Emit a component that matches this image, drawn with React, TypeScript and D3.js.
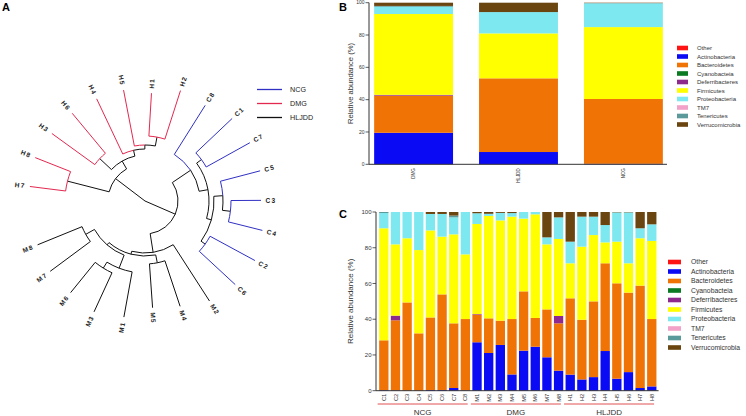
import React from 'react';
import * as d3 from 'd3';

// ---------- data ----------
const PHYLA = ['Other', 'Actinobacteria', 'Bacteroidetes', 'Cyanobacteia', 'Deferribacteres', 'Firmicutes', 'Proteobacteria', 'TM7', 'Tenericutes', 'Verrucomicrobia'];
const PHYLA_COLORS = ['#ff1414', '#0a0af5', '#f07306', '#0b7a22', '#8e2a8e', '#ffff00', '#7de8f0', '#f2a2c8', '#5a9a9a', '#6b4510'];

// Panel B (group means)
const GROUPS_B = ['DMG', 'HLJDD', 'NCG'];
const B_OTHER = [0, 0, 0];
const B_ACTINO = [19.5, 7.6, 0.3];
const B_BACTERO = [23.0, 45.6, 40.1];
const B_CYANO = [0, 0, 0];
const B_DEFERRI = [0.5, 0, 0];
const B_FIRMI = [50.0, 27.8, 44.5];
const B_PROTEO = [4.5, 13.2, 14.7];
const B_TM7 = [0, 0, 0];
const B_TENERI = [0.5, 0, 0.2];
const B_VERRUCO = [2.0, 5.8, 0.2];

// Panel C (samples)
const SAMPLES = ['C1', 'C2', 'C3', 'C4', 'C5', 'C6', 'C7', 'C8', 'M1', 'M2', 'M3', 'M4', 'M5', 'M6', 'M7', 'M8', 'H1', 'H2', 'H3', 'H4', 'H5', 'H6', 'H7', 'H8'];
const SAMPLE_GROUPS = ['NCG', 'DMG', 'HLJDD'];
const C_OTHER = [0, 0, 0, 0, 0, 0, 0, 0, 0, 0, 0, 0, 0, 0, 0, 0, 0, 0, 0, 0, 0, 0, 0, 0];
const C_ACTINO = [0.3, 0.2, 0, 0, 0.4, 0.4, 1.5, 0.2, 27.1, 21.1, 25.6, 9.1, 22.4, 24.6, 18.7, 11.2, 9.0, 6.3, 7.6, 22.2, 6.7, 10.4, 1.5, 2.4];
const C_BACTERO = [27.9, 39.2, 49.4, 32.1, 40.6, 53.5, 36.2, 39.9, 15.5, 19.4, 13.6, 31.0, 33.2, 16.1, 26.8, 26.5, 42.7, 33.4, 42.4, 49.1, 53.4, 44.5, 57.3, 37.7];
const C_CYANO = [0, 0, 0, 0, 0, 0, 0, 0, 0, 0, 0, 0, 0, 0, 0, 0, 0, 0, 0, 0, 0, 0, 0, 0];
const C_DEFERRI = [0, 2.6, 0, 0, 0, 0, 0, 0, 0.3, 0, 0, 0, 0, 0, 0, 4.1, 0, 0, 0, 0, 0, 0, 0, 0];
const C_FIRMI = [62.7, 39.9, 35.9, 46.6, 48.7, 32.3, 49.8, 36.2, 50.4, 57.3, 56.1, 57.3, 40.7, 58.0, 36.4, 43.1, 19.6, 40.9, 37.1, 11.7, 23.3, 16.4, 26.5, 43.7];
const C_PROTEO = [8.5, 18.1, 14.7, 21.3, 9.2, 12.7, 9.5, 23.7, 6.0, 1.2, 4.2, 2.0, 3.7, 1.3, 3.9, 12.1, 12.1, 16.8, 10.3, 9.7, 16.4, 28.5, 5.6, 9.3];
const C_TM7 = [0, 0, 0, 0, 0, 0, 0, 0, 0, 0, 0, 0, 0, 0, 0, 0, 0, 0, 0, 0, 0, 0, 0, 0];
const C_TENERI = [0.6, 0, 0, 0, 0, 0, 1.0, 0, 0, 0, 0, 0, 0, 0, 0, 0, 0, 0, 0, 0, 0, 0, 0, 0];
const C_VERRUCO = [0, 0, 0, 0, 1.1, 1.1, 2.0, 0, 0.7, 1.0, 0.5, 0.6, 0, 0, 14.2, 3.0, 16.6, 2.6, 2.6, 7.3, 0.2, 0.2, 9.1, 6.9];

const Y_TICKS = [0, 20, 40, 60, 80, 100];

// Panel A (tree; d = distance from root, relative)
type TNode = { name?: string; d: number; children?: TNode[] };
const L = (name: string, d: number): TNode => ({ name, d });
const N = (d: number, ...children: TNode[]): TNode => ({ d, children });
const TREE: TNode = N(0,
  N(0.296,
    N(0.64, L('H7', 0.928), L('H8', 0.944)),
    N(0.368,
      N(0.496, L('H3', 0.92), L('H6', 0.912)),
      N(0.416, L('H4', 0.904),
        N(0.448, L('H5', 0.904), N(0.52, L('H1', 0.864), L('H2', 0.928)))))),
  N(0.264,
    N(0.44, L('C8', 0.904),
      N(0.512,
        N(0.56, L('C1', 0.96), L('C7', 0.96)),
        N(0.552,
          N(0.624, L('C5', 0.952), N(0.688, L('C3', 0.928), L('C4', 0.968))),
          N(0.592, L('C2', 1.0), L('C6', 0.984))))),
    N(0.416, L('M2', 0.952),
      N(0.44,
        N(0.504, L('M4', 0.888), L('M5', 0.856)),
        N(0.464,
          N(0.576, L('M1', 0.944), N(0.632, L('M3', 0.976), L('M6', 0.944))),
          N(0.544, L('M7', 0.944), L('M8', 0.928)))))));
const TREE_GROUPS = ['NCG', 'DMG', 'HLJDD'];
const TREE_PREFIX: Record<string, string> = { C: 'NCG', H: 'DMG', M: 'HLJDD' };
const TREE_COLORS = ['#3030c4', '#e3284f', '#111111'];

// ---------- helpers ----------
const FONT = 'Liberation Sans, Arial, sans-serif';
function buildRows(keys: string[], arrays: number[][]) {
  return keys.map((k, i) => {
    const row: any = { key: k };
    PHYLA.forEach((p, j) => { row[p] = arrays[j][i]; });
    return row;
  });
}

function TreePanel() {
  const root = d3.hierarchy<TNode>(TREE);
  d3.cluster<TNode>().size([345, 1]).separation(() => 1)(root);
  const r = d3.scaleLinear().domain([0, 1]).range([0, 125]);
  const cx = 145, cy = 201;
  const pt = (a: number, rad: number): [number, number] => [cx + rad * Math.sin(a * Math.PI / 180), cy - rad * Math.cos(a * Math.PI / 180)];
  const ang = (n: any) => n.x + 270;
  const colorOf = (name: string) => TREE_COLORS[TREE_GROUPS.indexOf(TREE_PREFIX[name[0]])];
  const edges: JSX.Element[] = [];
  const labels: JSX.Element[] = [];
  root.descendants().forEach((n: any, i: number) => {
    if (!n.parent) return;
    const p = n.parent;
    const ap = ang(p), ac = ang(n), rp = r(p.data.d), rc = r(n.data.d);
    const col = n.children ? '#111111' : colorOf(n.data.name);
    let dstr: string;
    if (rp === 0) {
      const e = pt(ac, rc);
      dstr = `M${cx},${cy}L${e[0]},${e[1]}`;
    } else {
      const s = pt(ap, rp), m = pt(ac, rp), e = pt(ac, rc);
      const large = Math.abs(ac - ap) > 180 ? 1 : 0;
      const sweep = ac > ap ? 1 : 0;
      dstr = `M${s[0]},${s[1]}A${rp},${rp} 0 ${large} ${sweep} ${m[0]},${m[1]}L${e[0]},${e[1]}`;
    }
    edges.push(<path key={'e' + i} d={dstr} fill="none" stroke={col} strokeWidth={1} />);
    if (!n.children) {
      const an = ((Math.round(ac) % 360) + 360) % 360;
      const flip = an > 180 || an === 0;
      const lp = pt(ac, rc + 4.5);
      labels.push(
        <text key={'l' + i} transform={`translate(${lp[0]},${lp[1]}) rotate(${flip ? an + 90 : an - 90})`}
          textAnchor={flip ? 'end' : 'start'} dy="0.35em" fontSize={6.5} fontWeight="bold" letterSpacing={1.2}
          fill="#222" fontFamily={FONT}>{n.data.name}</text>
      );
    }
  });
  return (
    <g>
      {edges}
      {labels}
      {TREE_GROUPS.map((g, i) => (
        <g key={g}>
          <line x1={257} x2={282} y1={89.5 + i * 14} y2={89.5 + i * 14} stroke={TREE_COLORS[i]} strokeWidth={1.3} />
          <text x={290} y={89.5 + i * 14} dy="0.35em" fontSize={7.2} fill="#222" fontFamily={FONT}>{g}</text>
        </g>
      ))}
    </g>
  );
}

function StackPanel(props: {
  keys: string[]; arrays: number[][]; xRange: [number, number]; pIn: number; pOut: number;
  yRange: [number, number]; tickFont: number; xFont: number; titleFont: number; titleX: number;
  legendX: number; legendTextX: number; legendY: number; legendStep: number; legendW: number; legendFont: number;
  xLabelGap: number;
}) {
  const rows = buildRows(props.keys, props.arrays);
  const series = d3.stack().keys(PHYLA)(rows);
  const x = d3.scaleBand().domain(props.keys).range(props.xRange).paddingInner(props.pIn).paddingOuter(props.pOut);
  const y = d3.scaleLinear().domain([0, 100]).range(props.yRange);
  const ax = props.xRange[0] - 2;
  const axEnd = props.xRange[1] + 1;
  return (
    <g fontFamily={FONT}>
      {series.map((s, si) => (
        <g key={s.key} fill={PHYLA_COLORS[si]}>
          {s.map((dd, di) => {
            const h = y(dd[0]) - y(dd[1]);
            if (h <= 0) return null;
            return <rect key={di} x={x(props.keys[di])} y={y(dd[1])} width={x.bandwidth()} height={h} />;
          })}
        </g>
      ))}
      <line x1={ax} x2={ax} y1={y(100)} y2={y(0)} stroke="#333" strokeWidth={1} />
      <line x1={ax} x2={axEnd} y1={y(0)} y2={y(0)} stroke="#333" strokeWidth={1} />
      {Y_TICKS.map(t => (
        <g key={t}>
          <line x1={ax - 3.5} x2={ax} y1={y(t)} y2={y(t)} stroke="#333" strokeWidth={0.8} />
          <text x={ax - 4.5} y={y(t)} dy="0.35em" textAnchor="end" fontSize={props.tickFont} fill="#333">{t}</text>
        </g>
      ))}
      <text transform={`translate(${props.titleX},${(y(0) + y(100)) / 2}) rotate(-90)`} textAnchor="middle"
        fontSize={props.titleFont} fill="#333">Relative abundance (%)</text>
      {props.keys.map(k => (
        <text key={k} transform={`translate(${(x(k) as number) + x.bandwidth() / 2},${y(0) + props.xLabelGap}) rotate(-90)`}
          textAnchor="end" dy="0.35em" fontSize={props.xFont} fill="#333">{k}</text>
      ))}
      {PHYLA.map((p, i) => (
        <g key={p}>
          <rect x={props.legendX} y={props.legendY + i * props.legendStep - 2.3} width={props.legendW} height={4.6} fill={PHYLA_COLORS[i]} />
          <text x={props.legendTextX} y={props.legendY + i * props.legendStep} dy="0.35em" fontSize={props.legendFont} fill="#333">{p}</text>
        </g>
      ))}
    </g>
  );
}

export default function App() {
  const bArrays = [B_OTHER, B_ACTINO, B_BACTERO, B_CYANO, B_DEFERRI, B_FIRMI, B_PROTEO, B_TM7, B_TENERI, B_VERRUCO];
  const cArrays = [C_OTHER, C_ACTINO, C_BACTERO, C_CYANO, C_DEFERRI, C_FIRMI, C_PROTEO, C_TM7, C_TENERI, C_VERRUCO];
  const xc = d3.scaleBand().domain(SAMPLES).range([378, 657.6]).paddingInner(0.2).paddingOuter(0.1);
  return (
    <svg width={746} height={416} style={{ position: 'absolute', left: 0, top: 0, background: '#fff' }}>
      <rect width={746} height={416} fill="#fff" />
      <text x={2} y={11} fontSize={11} fontWeight="bold" fontFamily={FONT}>A</text>
      <text x={339} y={11} fontSize={11} fontWeight="bold" fontFamily={FONT}>B</text>
      <text x={339} y={218} fontSize={11} fontWeight="bold" fontFamily={FONT}>C</text>
      <TreePanel />
      <StackPanel keys={GROUPS_B} arrays={bArrays} xRange={[371, 666]} pIn={0.248} pOut={0.03}
        yRange={[164.3, 2.7]} tickFont={5} xFont={4.5} titleFont={7.6} titleX={353}
        legendX={677} legendTextX={697} legendY={48} legendStep={8.5} legendW={11} legendFont={6}
        xLabelGap={4} />
      <StackPanel keys={SAMPLES} arrays={cArrays} xRange={[378, 657.6]} pIn={0.2} pOut={0.1}
        yRange={[390.7, 212]} tickFont={6} xFont={5.8} titleFont={8} titleX={353}
        legendX={668} legendTextX={691} legendY={262} legendStep={9.5} legendW={13} legendFont={6.8}
        xLabelGap={3} />
      {SAMPLE_GROUPS.map(g => {
        const members = SAMPLES.filter(s => ({ C: 'NCG', M: 'DMG', H: 'HLJDD' } as any)[s[0]] === g);
        const x0 = (xc(members[0]) as number) - 1.5;
        const x1 = (xc(members[members.length - 1]) as number) + xc.bandwidth() * 0.75;
        return (
          <g key={g} fontFamily={FONT}>
            <line x1={x0} x2={x1} y1={404} y2={404} stroke="#e05050" strokeWidth={1} />
            <text x={(x0 + x1) / 2} y={415} textAnchor="middle" fontSize={8} fill="#333">{g}</text>
          </g>
        );
      })}
    </svg>
  );
}
